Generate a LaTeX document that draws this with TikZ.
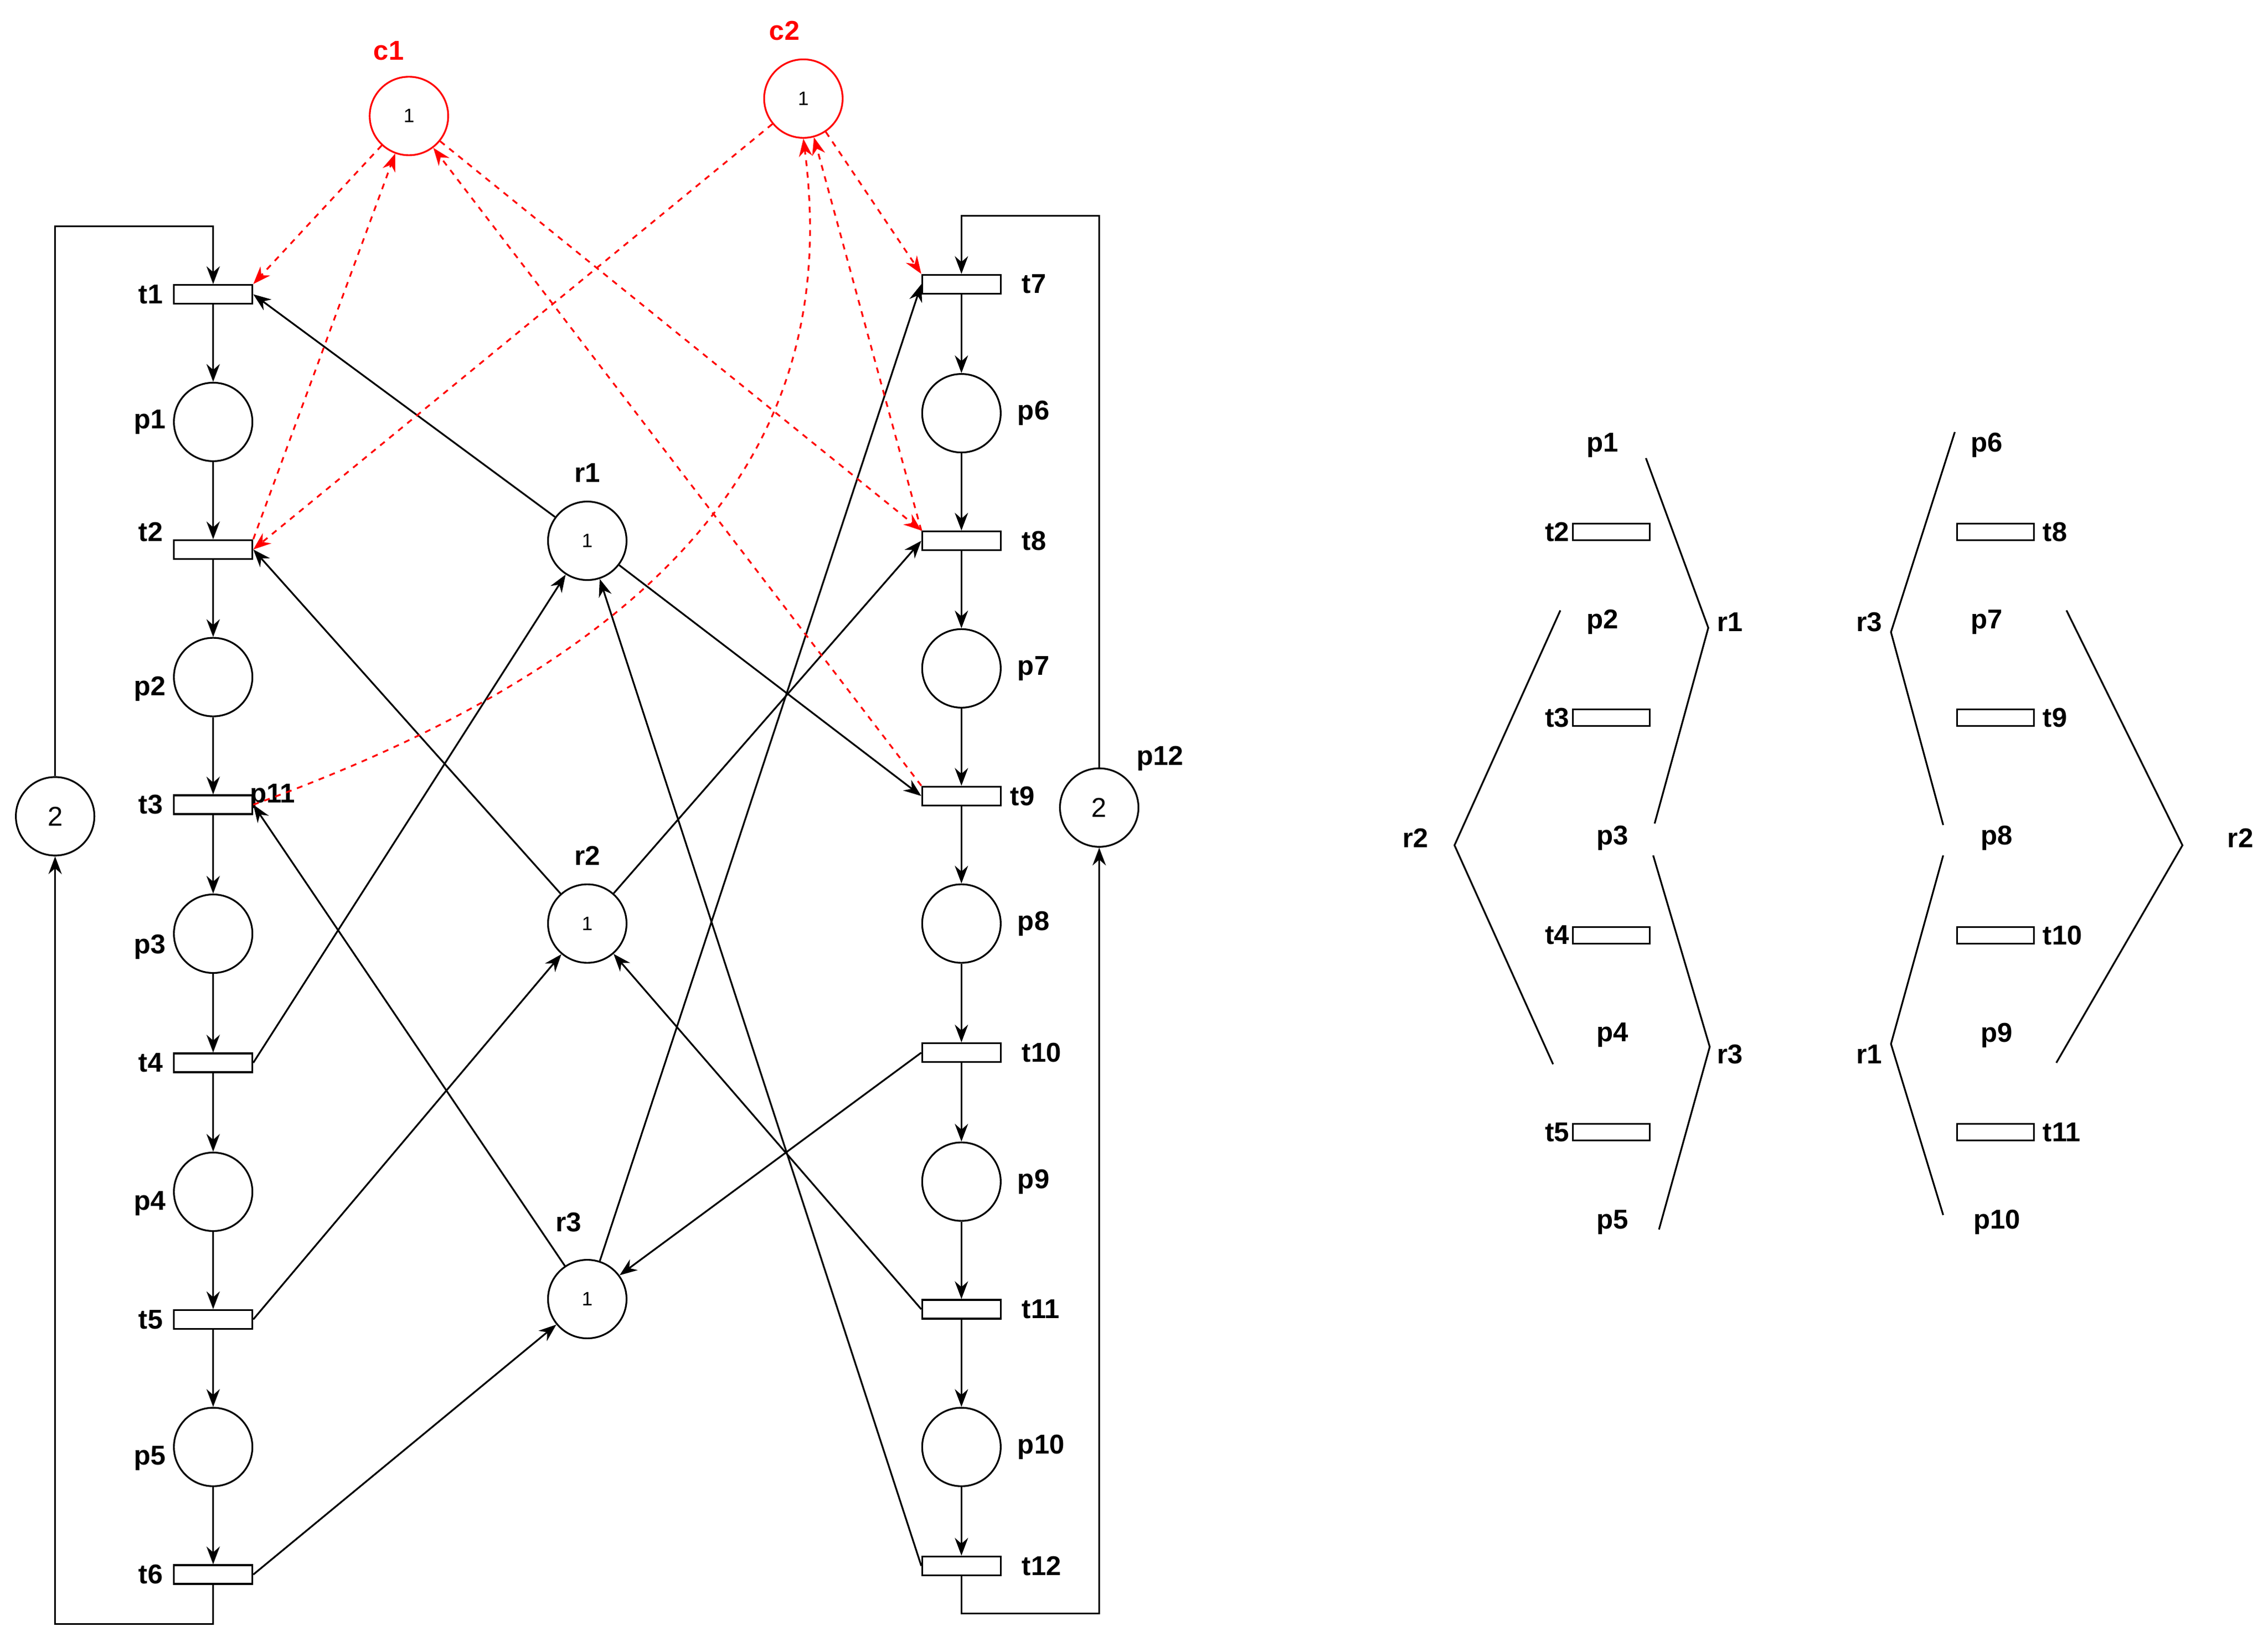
\documentclass[tikz,border=0pt]{standalone}
\usepackage{fontspec}
\setmainfont{Liberation Sans}
\usetikzlibrary{arrows.meta,positioning}
\tikzset{
  place/.style={circle,draw,line width=0.9pt,minimum size=1.42cm,inner sep=0pt,font=\fontsize{10}{11}\selectfont},
  cplace/.style={place,draw=red},
  trans/.style={rectangle,draw,line width=0.9pt,minimum width=1.42cm,minimum height=0.34cm,inner sep=0pt},
  lab/.style={font=\fontsize{14}{16}\selectfont\bfseries},
  arc/.style={-{Stealth[length=3.2mm,width=2.4mm]},line width=0.9pt},
  carc/.style={-{Stealth[length=3.2mm,width=2.4mm]},red,dashed,line width=0.9pt},
  seg/.style={line width=0.9pt}
}
\begin{document}
\begin{tikzpicture}[x=0.02623cm,y=-0.02623cm]
  \useasboundingbox (0,0) rectangle (1564,1129);
  % left process
  \foreach \n/\y in {1/203,2/379,3/555,4/733,5/910,6/1086}
    \node[trans] (t\n) at (147,\y) {};
  \foreach \n/\y in {1/291,2/467,3/644,4/822,5/998}
    \node[place] (p\n) at (147,\y) {};
  % right process
  \foreach \n/\y in {7/196,8/373,9/549,10/726,11/903,12/1080}
    \node[trans] (t\n) at (663,\y) {};
  \foreach \n/\y in {6/285,7/461,8/637,9/815,10/998}
    \node[place] (p\n) at (663,\y) {};
  % resources and idle places
  \node[place] (r1) at (405,373) {1};
  \node[place] (r2) at (405,637) {1};
  \node[place] (r3) at (405,896) {1};
  \node[place] (p11) at (38,563) {\fontsize{14}{15}\selectfont 2};
  \node[place] (p12) at (758,557) {\fontsize{14}{15}\selectfont 2};
  \node[cplace] (c1) at (282,80) {1};
  \node[cplace] (c2) at (554,68) {1};
  % labels
  \foreach \n/\y in {1/203,2/367,3/555,4/733,5/910,6/1086}
    \node[lab,anchor=east] at (117,\y) {t\n};
  \foreach \n/\y in {1/291,2/475,3/653,4/830,5/1006}
    \node[lab,anchor=east] at (119,\y) {p\n};
  \foreach \n/\y in {7/196,8/373,9/549,10/726,11/903,12/1080}
    \node[lab,anchor=west] at (\ifnum\n=9 692\else 700\fi,\y) {t\n};
  \foreach \n/\y in {6/285,7/461,8/637,9/815,10/998}
    \node[lab,anchor=west] at (697,\y) {p\n};
  \node[lab] at (405,326) {r1};
  \node[lab] at (405,590) {r2};
  \node[lab] at (392,843) {r3};
  \node[lab] at (188,549) {p11};
  \node[lab] at (800,523) {p12};
  \node[lab,red] at (268,35) {c1};
  \node[lab,red] at (541,21) {c2};
  % process arcs
  \foreach \a/\b in {t1/p1,p1/t2,t2/p2,p2/t3,t3/p3,p3/t4,t4/p4,p4/t5,p5/t6,t5/p5,
                     t7/p6,p6/t8,t8/p7,p7/t9,t9/p8,p8/t10,t10/p9,p9/t11,t11/p10,p10/t12}
    \draw[arc] (\a) -- (\b);
  \draw[arc] (t6.south) -- (147,1120) -- (38,1120) -- (p11.south);
  \draw[arc] (p11.north) -- (38,156) -- (147,156) -- (t1.north);
  \draw[arc] (t12.south) -- (663,1113) -- (758,1113) -- (p12.south);
  \draw[arc] (p12.north) -- (758,149) -- (663,149) -- (t7.north);
  % resource arcs
  \draw[arc] (r1) -- (t1.east);
  \draw[arc] (r1) -- (t9.west);
  \draw[arc] (t4.east) -- (r1);
  \draw[arc] (t12.west) -- (r1);
  \draw[arc] (r2) -- (t2.east);
  \draw[arc] (r2) -- (t8.west);
  \draw[arc] (t5.east) -- (r2);
  \draw[arc] (t11.west) -- (r2);
  \draw[arc] (r3) -- (t3.east);
  \draw[arc] (r3) -- (t7.west);
  \draw[arc] (t6.east) -- (r3);
  \draw[arc] (t10.west) -- (r3);
  % control places
  \draw[carc] (c1) -- (t1.north east);
  \draw[carc] (t2.north east) -- (c1);
  \draw[carc] (c1) -- (t8.north west);
  \draw[carc] (t9.north west) -- (c1);
  \draw[carc] (c2) -- (t2.east);
  \draw[carc] (t3.east) .. controls (520,430) and (575,260) .. (c2.south);
  \draw[carc] (t8.north west) -- (c2);
  \draw[carc] (c2) -- (t7.north west);
  % right-hand sketch
  \foreach \n/\y in {2/367,3/495,4/645,5/781} {
    \node[trans,minimum width=1.39cm,minimum height=0.3cm] (s\n) at (1111,\y) {};
    \node[lab,anchor=east,inner sep=1pt] at (s\n.west) {t\n};
  }
  \foreach \n/\y in {8/367,9/495,10/645,11/781} {
    \node[trans,minimum width=1.39cm,minimum height=0.3cm] (s\n) at (1376,\y) {};
    \node[lab,anchor=west,inner sep=4pt] at (s\n.east) {t\n};
  }
  \foreach \n/\x/\y in {1/1105/307,2/1105/429,3/1112/578,4/1112/714,5/1112/843,
                        6/1370/307,7/1370/429,8/1377/578,9/1377/714,10/1377/843}
    \node[lab] at (\x,\y) {p\n};
  \node[lab] at (1193,429) {r1};
  \node[lab] at (1193,727) {r3};
  \node[lab] at (976,578) {r2};
  \node[lab] at (1289,429) {r3};
  \node[lab] at (1289,727) {r1};
  \node[lab] at (1545,578) {r2};
  \draw[seg] (1135,316) -- (1178,433) -- (1141,568);
  \draw[seg] (1140,590) -- (1179,722) -- (1144,848);
  \draw[seg] (1076,421) -- (1003,583) -- (1071,734);
  \draw[seg] (1348,298) -- (1304,436) -- (1340,569);
  \draw[seg] (1340,590) -- (1304,720) -- (1340,838);
  \draw[seg] (1425,421) -- (1505,583) -- (1418,733);
\end{tikzpicture}
\end{document}
